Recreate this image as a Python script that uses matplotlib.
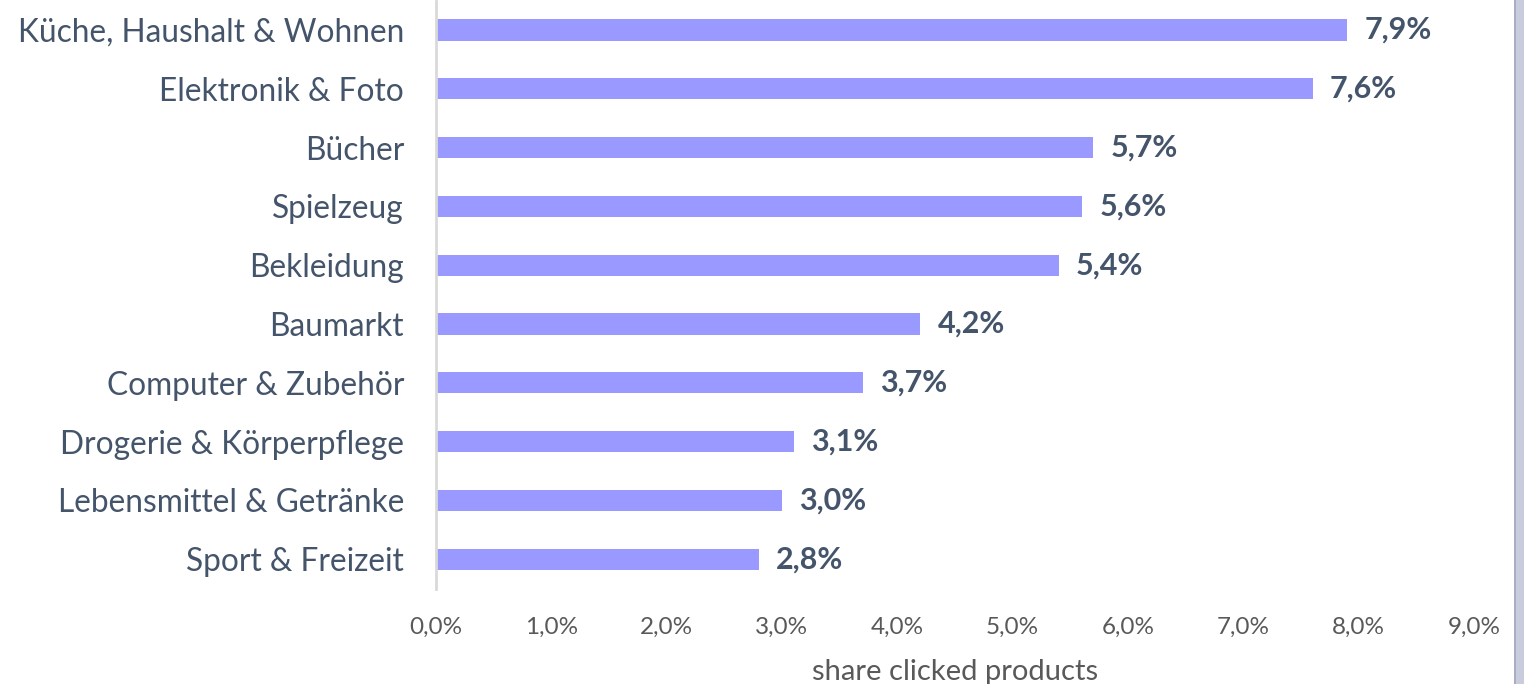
import matplotlib
matplotlib.use("Agg")
import matplotlib.pyplot as plt
from matplotlib.patches import Rectangle
from matplotlib.ticker import FuncFormatter

plt.rcParams["font.family"] = ["Lato", "DejaVu Sans"]

categories = [
    "Küche, Haushalt & Wohnen",
    "Elektronik & Foto",
    "Bücher",
    "Spielzeug",
    "Bekleidung",
    "Baumarkt",
    "Computer & Zubehör",
    "Drogerie & Körperpflege",
    "Lebensmittel & Getränke",
    "Sport & Freizeit",
]
shares = [7.9, 7.6, 5.7, 5.6, 5.4, 4.2, 3.7, 3.1, 3.0, 2.8]
xticks = [0, 1, 2, 3, 4, 5, 6, 7, 8, 9]

bar_color = "#9999ff"
label_color = "#44546a"
tick_color = "#595959"

fig = plt.figure(figsize=(15.24, 6.84), dpi=100)
ax = fig.add_axes([436 / 1524, 1 - 588.6 / 684, 1038 / 1524, 588 / 684])

pos = list(range(len(categories)))
ax.barh(pos, shares, height=0.36, color=bar_color)
ax.set_ylim(len(categories) - 0.5, -0.5)
ax.set_xlim(0, 9)

for y, v in zip(pos, shares):
    ax.text(v + 0.15, y, f"{v:.1f}%".replace(".", ","), va="center", ha="left",
            fontsize=22, fontweight="bold", color=label_color)

ax.set_yticks(pos)
ax.set_yticklabels(categories, fontsize=22.8, color=label_color)
ax.set_xticks(xticks)
ax.xaxis.set_major_formatter(FuncFormatter(lambda x, _: f"{x:.1f}%".replace(".", ",")))
ax.tick_params(axis="x", labelsize=17.5, labelcolor=tick_color, length=0, pad=20.5)
ax.tick_params(axis="y", length=0, pad=23)
ax.set_xlabel("share clicked products", fontsize=21, color=tick_color, labelpad=15)

for s in ["top", "right", "bottom"]:
    ax.spines[s].set_visible(False)
ax.spines["left"].set_color("#d9d9d9")
ax.spines["left"].set_linewidth(2)

# frame edge on the right side
fig.patches.append(Rectangle((1514 / 1524, 0), 10 / 1524, 1, transform=fig.transFigure,
                             facecolor="#c9ccdc", edgecolor="none"))
fig.patches.append(Rectangle((1514 / 1524, 0), 2 / 1524, 1, transform=fig.transFigure,
                             facecolor="#a9aec6", edgecolor="none"))

fig.savefig("out.png", dpi=100)
